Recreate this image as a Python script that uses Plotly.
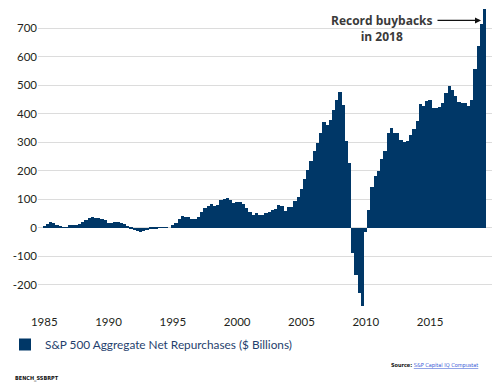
import plotly.graph_objects as go

# Quarter-end dates, 1984-Q4 through 2019-Q1
months = [3, 6, 9, 12]
days = {3: 31, 6: 30, 9: 30, 12: 31}
quarters = []
for k in range(138):
    idx = k + 3
    yr = 1984 + idx // 4
    m = months[idx % 4]
    quarters.append(f"{yr}-{m:02d}-{days[m]}")

# S&P 500 aggregate net repurchases ($ billions)
net_repurchases = [
    7, 14, 21, 15, 10, 3, 1, 1, 10, 10,
    10, 12, 20, 27, 34, 38, 35, 33, 31, 26,
    18, 16, 21, 21, 17, 13, 6, -2, -8, -12,
    -15, -12, -9, -6, -3, -2, -1, -1, -1, 0,
    8, 18, 31, 42, 39, 38, 32, 32, 38, 56,
    68, 77, 82, 77, 79, 97, 100, 104, 97, 85,
    91, 90, 82, 70, 55, 45, 50, 46, 44, 50,
    56, 61, 67, 81, 76, 60, 71, 73, 94, 108,
    137, 172, 201, 235, 270, 299, 332, 370, 362, 379,
    414, 449, 477, 432, 303, 227, -89, -167, -229, -274,
    -16, 63, 144, 181, 200, 242, 270, 331, 350, 334,
    332, 309, 301, 305, 326, 347, 375, 435, 429, 446,
    449, 419, 421, 425, 437, 473, 498, 484, 463, 442,
    437, 437, 426, 449, 557, 639, 715, 767,
]

x_tick_vals = ["1985-01-01", "1990-01-01", "1995-01-01", "2000-01-01",
               "2005-01-01", "2010-01-01", "2015-01-01"]
x_tick_text = ["1985", "1990", "1995", "2000", "2005", "2010", "2015"]
y_tick_vals = [-200, -100, 0, 100, 200, 300, 400, 500, 600, 700]
y_tick_text = ["-200", "-100", "0", "100", "200", "300", "400", "500", "600", "700"]

series_name = "S&P 500 Aggregate Net Repurchases ($ Billions)"
bar_color = "#003767"
font_family = "Lato, 'Open Sans', sans-serif"
small_font = "'Liberation Sans Narrow', 'DejaVu Sans Condensed', sans-serif"

fig = go.Figure()
fig.add_trace(go.Bar(
    x=quarters,
    y=net_repurchases,
    name=series_name,
    marker=dict(color=bar_color, line=dict(width=0)),
    width=92 * 86400000,
    showlegend=True,
))

fig.update_layout(
    width=501,
    height=388,
    margin=dict(l=38, r=9, t=0, b=74.5, autoexpand=False),
    paper_bgcolor="white",
    plot_bgcolor="white",
    bargap=0,
    font=dict(family=font_family, size=11.5, color="#231f20"),
    xaxis=dict(
        type="date",
        range=["1984-07-08", "2019-10-26"],
        tickvals=x_tick_vals,
        ticktext=x_tick_text,
        showgrid=False,
        zeroline=False,
        showline=False,
        ticks="",
        automargin=False,
        tickfont=dict(size=11.5, color="#231f20"),
    ),
    yaxis=dict(
        range=[-300, 800],
        tickvals=y_tick_vals,
        ticktext=y_tick_text,
        showgrid=True,
        gridcolor="#dcdcdc",
        gridwidth=1.3,
        zeroline=False,
        showline=False,
        ticks="",
        automargin=False,
        tickfont=dict(size=11.5, color="#231f20"),
    ),
    showlegend=True,
    legend=dict(
        orientation="h",
        xref="container",
        yref="container",
        x=5 / 501,
        y=1 - 330 / 388,
        xanchor="left",
        yanchor="top",
        font=dict(family=font_family, size=11.8, color="#1f3f6e"),
        bgcolor="rgba(0,0,0,0)",
    ),
)

def px_x(px):
    return (px - 38) / 454.0

def px_y(py):
    return (313.5 - py) / 313.5

fig.add_annotation(
    xref="paper", yref="paper", x=px_x(382), y=px_y(28.5),
    text="<b>Record buybacks<br>in 2018</b>", showarrow=False,
    font=dict(family="'Open Sans', sans-serif", size=12, color="#3a3a3a"),
    xanchor="center", yanchor="middle", align="center",
)
fig.add_annotation(
    xref="paper", yref="paper", x=px_x(481), y=px_y(20.5),
    text="", showarrow=True, ax=-45, ay=0,
    arrowhead=2, arrowsize=1, arrowwidth=1.2, arrowcolor="#111111",
)
fig.add_annotation(
    xref="paper", yref="paper", x=px_x(13), y=px_y(379),
    text="<b>BENCH_SSBRPT</b>", showarrow=False,
    font=dict(family=small_font, size=5.5, color="#111111"),
    xanchor="left", yanchor="middle",
)
fig.add_annotation(
    xref="paper", yref="paper", x=px_x(480), y=px_y(366),
    text="<b>Source:</b> <span style='color:#3b5bd6'><u>S&P Capital IQ Compustat</u></span>",
    showarrow=False,
    font=dict(family=small_font, size=5.5, color="#111111"),
    xanchor="right", yanchor="middle",
)

fig.write_html(
    "out.html",
    config={"displayModeBar": False},
    post_script="document.body.style.margin='0px';",
)
